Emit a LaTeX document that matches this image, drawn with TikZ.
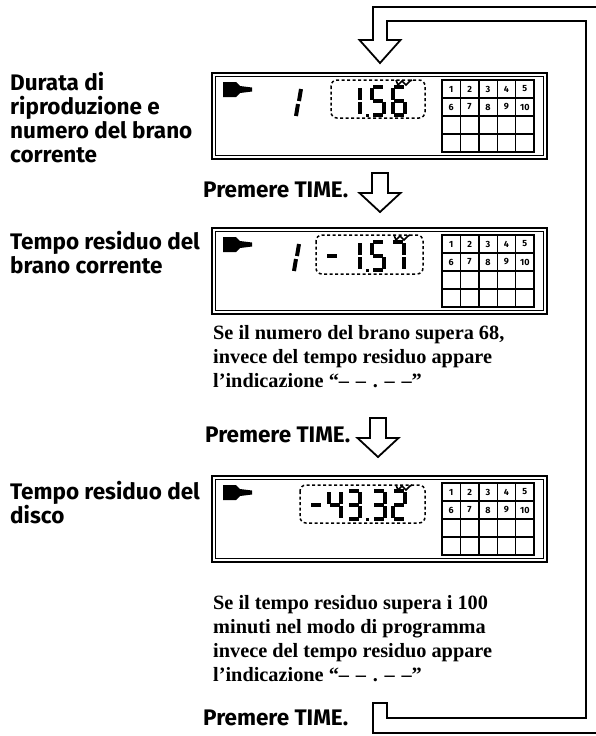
\documentclass[tikz,border=0pt]{standalone}
\usepackage{fontspec}
\setmainfont{Liberation Serif}
\newfontfamily\labfont{Fira Sans}
\def\sga{(1,0)--(11,0)}
\def\sgb{(12,1)--(12,13)}
\def\sgc{(12,15)--(12,27)}
\def\sgd{(1,28)--(11,28)}
\def\sge{(0,15)--(0,27)}
\def\sgf{(0,1)--(0,13)}
\def\sgg{(1,14)--(11,14)}
\newcommand\lcddigit[3]{%
  \begin{scope}[shift={(#1,#2)},line width=4pt]
    \foreach \s in {#3}{\expandafter\draw\csname sg\s\endcsname;}
  \end{scope}}
\newcommand\lcdmark[2]{%
  \draw[line width=1.6pt] (#1,#2) -- ++(2,5) -- ++(4,-4) -- ++(4,4) -- ++(4,-4) -- ++(2,-1);}
\newcommand\lcdbox[1]{% top y
  \draw[line width=2.4pt] (212,#1) rectangle (547,#1+86);
  \draw[line width=1pt] (215.5,#1+3.5) rectangle (543.5,#1+82.5);
  \fill (223,#1+9) -- (236,#1+9) -- (240,#1+13) -- (252,#1+14.5) -- (252,#1+18.5) -- (240,#1+20) -- (236,#1+24) -- (223,#1+24) -- cycle;
  \foreach \i in {1,2,3,4}{\draw[line width=1.4pt] (442+18.4*\i,#1+7) -- (442+18.4*\i,#1+79);}
  \foreach \j in {1,2,3}{\draw[line width=1.4pt] (442,#1+7+18*\j) -- (534,#1+7+18*\j);}
  \draw[line width=2.4pt] (442,#1+7) rectangle (534,#1+79);
  \foreach \n [count=\i from 0] in {1,2,3,4,5}{
    \node[cell] at (451.2+18.4*\i,#1+16) {\n};}
  \foreach \n [count=\i from 0] in {6,7,8,9,10}{
    \node[cell] at (451.2+18.4*\i,#1+34) {\n};}}
\newcommand\hollowdown[2]{% cx, top
  \draw[band] (#1-8,#2) -- (#1+8,#2) -- (#1+8,#2+20) -- (#1+20.5,#2+20) -- (#1,#2+39) -- (#1-20.5,#2+20) -- (#1-8,#2+20) -- cycle;}
\tikzset{
  lab/.style={font=\labfont\bfseries\fontsize{22.5}{24}\selectfont, align=left, anchor=north west, inner sep=0pt},
  note/.style={font=\bfseries\fontsize{20.3}{24}\selectfont, align=left, anchor=north west, inner sep=0pt},
  band/.style={draw, line width=1.8pt, line join=miter},
  dotbox/.style={draw, line width=1.5pt, dash pattern=on 3pt off 2.5pt, rounded corners=6pt},
  cell/.style={font=\labfont\bfseries\fontsize{9}{9}\selectfont, inner sep=0pt}
}
\begin{document}
\begin{tikzpicture}[x=1pt,y=-1pt]
\useasboundingbox (0,0) rectangle (595,736);
% loop band with arrow head
\draw[band] (373,733) -- (599,733) -- (599,7) -- (373,7) -- (373,40) -- (359.5,40) -- (380,63) -- (400.5,40) -- (387,40) -- (387,21) -- (586,21) -- (586,718) -- (387,718) -- (387,703) -- (373,703) -- cycle;
% displays
\lcdbox{73}
\lcdbox{228}
\lcdbox{476}
% display 1
\draw[line width=4pt] (301,89) -- (299,101) (298,104) -- (296,116);
\draw[dotbox] (331,80) rectangle (425,118);
\lcddigit{348}{87}{b,c}
\fill (366,114) rectangle (369,117);
\lcddigit{372}{87}{a,f,g,c,d}
\lcddigit{393}{87}{a,f,g,e,c,d}
\lcdmark{396}{80}
% display 2
\draw[line width=4pt] (299,244) -- (297,256) (296,259) -- (294,271);
\draw[dotbox] (316,235) rectangle (423,274);
\lcddigit{326}{242}{g}
\lcddigit{348}{242}{b,c}
\fill (366,269) rectangle (369,272);
\lcddigit{372}{242}{a,f,g,c,d}
\lcddigit{392}{242}{a,b,c}
\lcdmark{394}{235}
% display 3
\draw[dotbox] (300,485) rectangle (425,523);
\lcddigit{310}{491}{g}
\lcddigit{329}{491}{f,g,b,c}
\lcddigit{348}{491}{a,b,g,c,d}
\fill (366,518) rectangle (369,521);
\lcddigit{373}{491}{a,b,g,c,d}
\lcddigit{393}{491}{a,b,g,e,d}
\lcdmark{396}{485}
% arrows
\hollowdown{380}{173}
\hollowdown{378}{418}
% labels
\node[lab] (l1) at (10,72) {Durata di\\riproduzione e\\numero del brano\\corrente};
\node[lab] (l2) at (10,231) {Tempo residuo del\\brano corrente};
\node[lab] (l3) at (10,481) {Tempo residuo del\\disco};
\node[lab] (p1) at (203,182) {Premere TIME.};
\node[lab] (p2) at (205,427) {Premere TIME.};
\node[lab] (p3) at (203,710) {Premere TIME.};
\node[note] (n1) at (213,325) {Se il numero del brano supera 68,\\invece del tempo residuo appare\\l’indicazione “–\,\,–\,\,.\,\,–\,\,–”};
\node[note] (n2) at (213,595) {Se il tempo residuo supera i 100\\minuti nel modo di programma\\invece del tempo residuo appare\\l’indicazione “–\,\,–\,\,.\,\,–\,\,–”};
\end{tikzpicture}
\end{document}
